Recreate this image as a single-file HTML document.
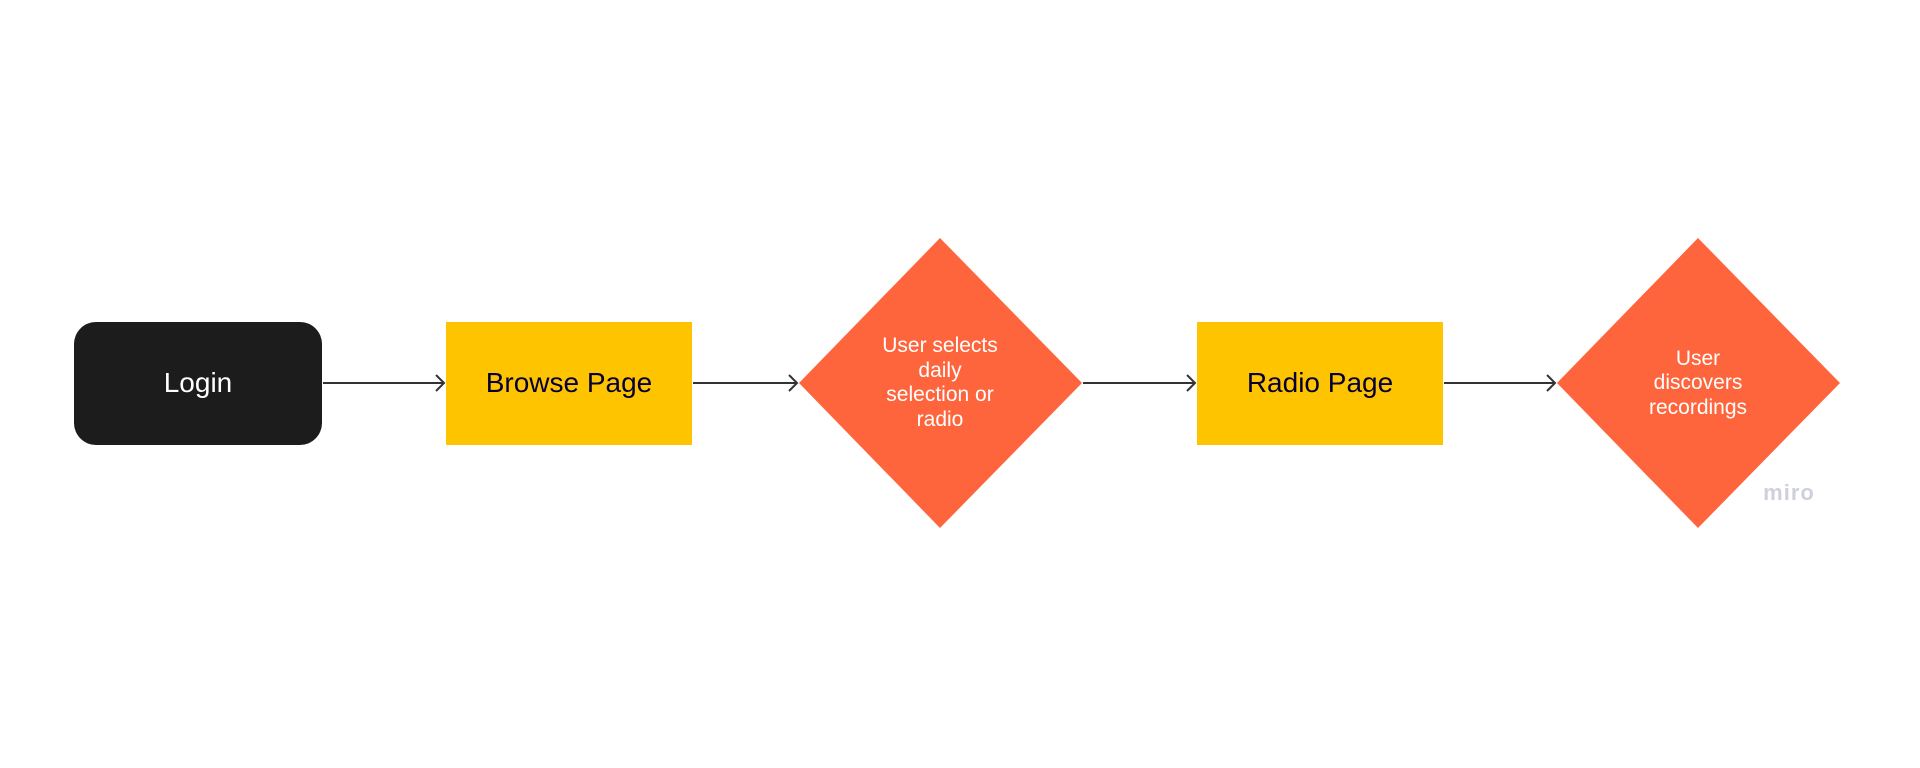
<!DOCTYPE html>
<html><head><meta charset="utf-8"><style>
html,body{margin:0;padding:0;background:#fff;width:1920px;height:768px;overflow:hidden}
</style></head><body>
<svg width="1920" height="768" xmlns="http://www.w3.org/2000/svg" font-family="Liberation Sans, Arial, sans-serif">
<rect x="74" y="322" width="248" height="123" rx="22" fill="#1c1c1c"/>
<text x="198" y="392" font-size="28" fill="#fff" text-anchor="middle">Login</text>
<rect x="446" y="322" width="246" height="123" fill="#fec400"/>
<text x="569" y="392" font-size="28" fill="#050038" text-anchor="middle">Browse Page</text>
<polygon points="940,238 1082,383 940,528 799,383" fill="#ff653d"/>
<g font-size="21" fill="#fff" text-anchor="middle">
<text x="940" y="352">User selects</text>
<text x="940" y="377">daily</text>
<text x="940" y="401">selection or</text>
<text x="940" y="426">radio</text>
</g>
<rect x="1197" y="322" width="246" height="123" fill="#fec400"/>
<text x="1320" y="392" font-size="28" fill="#050038" text-anchor="middle">Radio Page</text>
<polygon points="1698,238 1840,383 1698,528 1557,383" fill="#ff653d"/>
<g font-size="21" fill="#fff" text-anchor="middle">
<text x="1698" y="365">User</text>
<text x="1698" y="389">discovers</text>
<text x="1698" y="414">recordings</text>
</g>
<g stroke="#333" stroke-width="2" fill="none">
<line x1="323" y1="383" x2="444" y2="383"/><polyline points="436,375 444,383 436,391"/>
<line x1="693" y1="383" x2="797" y2="383"/><polyline points="789,375 797,383 789,391"/>
<line x1="1083" y1="383" x2="1195" y2="383"/><polyline points="1187,375 1195,383 1187,391"/>
<line x1="1444" y1="383" x2="1555" y2="383"/><polyline points="1547,375 1555,383 1547,391"/>
</g>
<text x="1789" y="500" font-size="22" font-weight="bold" fill="#cfd0dd" text-anchor="middle" letter-spacing="1">miro</text>
</svg>
</body></html>
